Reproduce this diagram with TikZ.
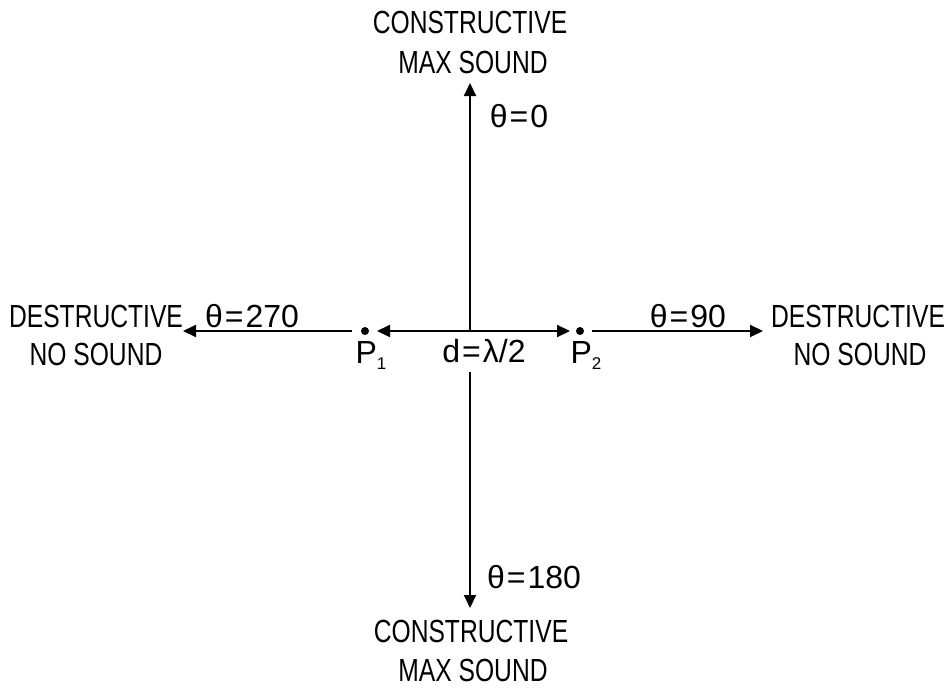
\documentclass[tikz,border=0pt]{standalone}
\usepackage{fontspec}
\setmainfont{Liberation Sans}
\newfontfamily\wordfont{Liberation Sans}[FakeStretch=0.77]
\usetikzlibrary{arrows.meta}
\newcommand{\subidx}[1]{\raisebox{-6pt}{\fontsize{17}{17}\selectfont #1}}
\newcommand{\eqs}{\hspace{2pt}=\hspace{2pt}}
\begin{document}
\begin{tikzpicture}[x=1pt,y=-1pt,
  word/.style={font=\wordfont\fontsize{32}{32}\selectfont, inner sep=0pt, anchor=base},
  lab/.style={font=\fontsize{32}{32}\selectfont, inner sep=0pt, anchor=base},
  ln/.style={line width=2pt},
  arr/.style={ln,-{Triangle[length=13pt,width=12pt]}},
  darr/.style={ln,{Triangle[length=13pt,width=12pt]}-{Triangle[length=13pt,width=12pt]}},
  pdot/.style={circle,fill,inner sep=0pt,minimum size=8pt}]
\useasboundingbox[fill=white] (0,0) rectangle (948,688);

% labels
\node[word] (tc) at (470,33) {CONSTRUCTIVE};
\node[word] (tm) at (473,73) {MAX SOUND};
\node[lab]  (t0) at (519,127) {θ\eqs 0};
\node[word] (ld) at (96,327) {DESTRUCTIVE};
\node[word] (ln) at (96,365) {NO SOUND};
\node[lab]  (t270) at (252,327) {θ\eqs 270};
\node[lab]  (t90) at (688,327) {θ\eqs 90};
\node[word] (rd) at (858,327) {DESTRUCTIVE};
\node[word] (rn) at (860,365) {NO SOUND};
\node[lab]  (dl) at (484,362) {d\eqs λ/2};
\node[lab]  (p1l) at (371,363) {P\subidx{1}};
\node[lab]  (p2l) at (586,363) {P\subidx{2}};
\node[lab]  (t180) at (534,588) {θ\eqs 180};
\node[word] (bc) at (471,642) {CONSTRUCTIVE};
\node[word] (bm) at (473,681) {MAX SOUND};

% points
\node[pdot] (p1) at (365,331) {};
\node[pdot] (p2) at (580,331) {};
\coordinate (c0) at (470,331);
\coordinate (ttip) at (470,83);
\coordinate (bstart) at (470,372);
\coordinate (btip) at (470,608);
\coordinate (ltip) at (183,331);
\coordinate (rtip) at (763,331);

% connectors
\draw[arr] (c0) -- (ttip);
\draw[arr] (bstart) -- (btip);
\draw[darr, shorten <=12pt, shorten >=10pt] (p1.center) -- (p2.center);
\draw[arr, shorten <=13pt] (p1.center) -- (ltip);
\draw[arr, shorten <=12pt] (p2.center) -- (rtip);
\end{tikzpicture}
\end{document}
